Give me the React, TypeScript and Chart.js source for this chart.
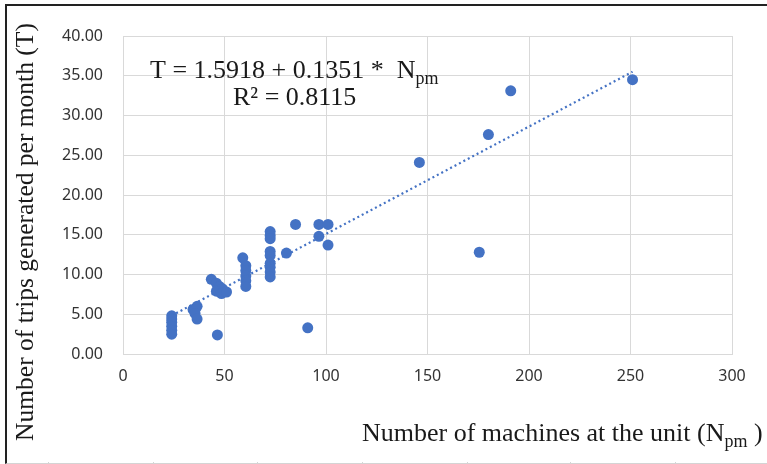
import React, { useEffect, useRef } from "react";
import { Chart, registerables } from "chart.js";
Chart.register(...registerables);

// Observations: number of machines at the unit (N_pm) vs trips per month (T)
const machines = [
  24, 24, 24, 24, 24, 24,
  46.5,
  34.5, 36.5, 35.5, 36.5,
  43.5,
  46, 47.5, 49, 46, 48.5, 51,
  59, 60.5, 60.5, 60.5, 60.5, 60.5,
  72.5, 72.5, 72.5, 72.5, 72.5, 72.5, 72.5, 72.5, 72.5,
  80.5, 85,
  96.5, 101, 96.5, 101,
  91,
  146, 175.5, 180, 191, 251,
];
const trips = [
  4.8, 4.4, 4.0, 3.5, 3.0, 2.5,
  2.4,
  5.6, 6.0, 5.1, 4.4,
  9.4,
  8.9, 8.5, 8.2, 7.9, 7.6, 7.8,
  12.1, 11.1, 10.5, 9.8, 9.2, 8.5,
  15.4, 14.9, 14.5, 12.9, 12.4, 11.4, 10.9, 10.3, 9.7,
  12.7, 16.3,
  16.3, 16.3, 14.8, 13.7,
  3.3,
  24.1, 12.8, 27.6, 33.1, 34.5,
];
// Linear trendline T = 1.5918 + 0.1351 * N, drawn between the extreme observations
const trendX = [24, 251];
const trendY = [4.83, 35.5];

const yTicks = [0, 5, 10, 15, 20, 25, 30, 35, 40];
const xTicks = [0, 50, 100, 150, 200, 250, 300];

const eqLine1 = "T = 1.5918 + 0.1351 *  N";
const eqSub = "pm";
const eqLine2 = "R² = 0.8115";
const xTitleMain = "Number of machines at the unit (N";
const xTitleSub = "pm";
const xTitleEnd = " )";
const yTitle = "Number of trips generated per month (T)";

const BLUE = "#4472C4";
const GRID = "#d9d9d9";
const SERIF = "'Liberation Serif', 'Times New Roman', serif";
const SANS = "'Noto Sans', 'Open Sans', sans-serif";

const textPlugin = {
  id: "customText",
  afterDraw(chart: any) {
    const ctx = chart.ctx as CanvasRenderingContext2D;
    ctx.save();
    ctx.fillStyle = "#1a1a1a";
    ctx.textBaseline = "alphabetic";
    ctx.textAlign = "left";
    // equation
    ctx.font = `26px ${SERIF}`;
    const x1 = 150;
    const w1 = ctx.measureText(eqLine1).width;
    ctx.fillText(eqLine1, x1, 78);
    ctx.font = `18px ${SERIF}`;
    ctx.fillText(eqSub, x1 + w1, 84);
    ctx.font = `26px ${SERIF}`;
    ctx.fillText(eqLine2, 233, 105);
    // x title
    ctx.font = `26px ${SERIF}`;
    let xt = 362;
    ctx.fillText(xTitleMain, xt, 441);
    xt += ctx.measureText(xTitleMain).width;
    ctx.font = `18px ${SERIF}`;
    ctx.fillText(xTitleSub, xt, 447);
    xt += ctx.measureText(xTitleSub).width;
    ctx.font = `26px ${SERIF}`;
    ctx.fillText(xTitleEnd, xt, 441);
    // y title
    ctx.translate(33, 232);
    ctx.rotate(-Math.PI / 2);
    ctx.textAlign = "center";
    ctx.font = `25.5px ${SERIF}`;
    ctx.fillText(yTitle, 0, 0);
    ctx.restore();
  },
};

const cellLines = [48, 153, 257, 362, 467, 570, 675];

export default function App() {
  const ref = useRef<HTMLCanvasElement | null>(null);
  useEffect(() => {
    if (!ref.current) return;
    const chart = new Chart(ref.current, {
      type: "scatter",
      data: {
        datasets: [
          {
            label: "Trendline",
            data: trendX.map((x, i) => ({ x, y: trendY[i] })),
            showLine: true,
            borderColor: BLUE,
            borderWidth: 2.2,
            borderDash: [2, 3],
            pointRadius: 0,
            order: 0,
          } as any,
          {
            label: "Observations",
            data: machines.map((x, i) => ({ x, y: trips[i] })),
            backgroundColor: BLUE,
            borderColor: BLUE,
            borderWidth: 0,
            pointRadius: 5.5,
            order: 1,
          },
        ],
      },
      options: {
        responsive: false,
        animation: false,
        devicePixelRatio: 1,
        layout: { padding: { top: 36, right: 35, left: 0, bottom: 0 } },
        plugins: {
          legend: { display: false },
          tooltip: { enabled: false },
        },
        scales: {
          x: {
            type: "linear",
            min: 0,
            max: 300,
            afterBuildTicks: (s: any) => {
              s.ticks = xTicks.map((v) => ({ value: v }));
            },
            afterFit: (s: any) => {
              s.height = 110;
            },
            ticks: {
              color: "#333",
              font: { family: SANS, size: 16 },
              padding: 13,
            },
            grid: { color: GRID, lineWidth: 1, drawTicks: false },
            border: { display: true, color: GRID, width: 1 },
          },
          y: {
            type: "linear",
            min: 0,
            max: 40,
            afterBuildTicks: (s: any) => {
              s.ticks = yTicks.map((v) => ({ value: v }));
            },
            afterFit: (s: any) => {
              s.width = 123;
            },
            ticks: {
              color: "#333",
              font: { family: SANS, size: 16 },
              padding: 20,
              callback: (v: any) => Number(v).toFixed(2),
            },
            grid: { color: GRID, lineWidth: 1, drawTicks: false },
            border: { display: true, color: GRID, width: 1 },
          },
        },
      },
      plugins: [textPlugin],
    });
    return () => chart.destroy();
  }, []);

  return (
    <div
      style={{
        position: "fixed",
        left: 0,
        top: 0,
        width: 767,
        height: 464,
        background: "#fff",
        overflow: "hidden",
      }}
    >
      <div
        style={{
          position: "absolute",
          left: 5,
          top: 4,
          right: 0,
          height: 457,
          borderTop: "2px solid #222",
          borderLeft: "2px solid #222",
          borderBottom: "1px solid #d4d4d4",
        }}
      />
      {cellLines.map((x) => (
        <div
          key={x}
          style={{
            position: "absolute",
            left: x,
            top: 462,
            width: 1,
            height: 2,
            background: "#d4d4d4",
          }}
        />
      ))}
      <canvas
        ref={ref}
        width={767}
        height={464}
        style={{ position: "absolute", left: 0, top: 0, width: 767, height: 464 }}
      />
    </div>
  );
}
